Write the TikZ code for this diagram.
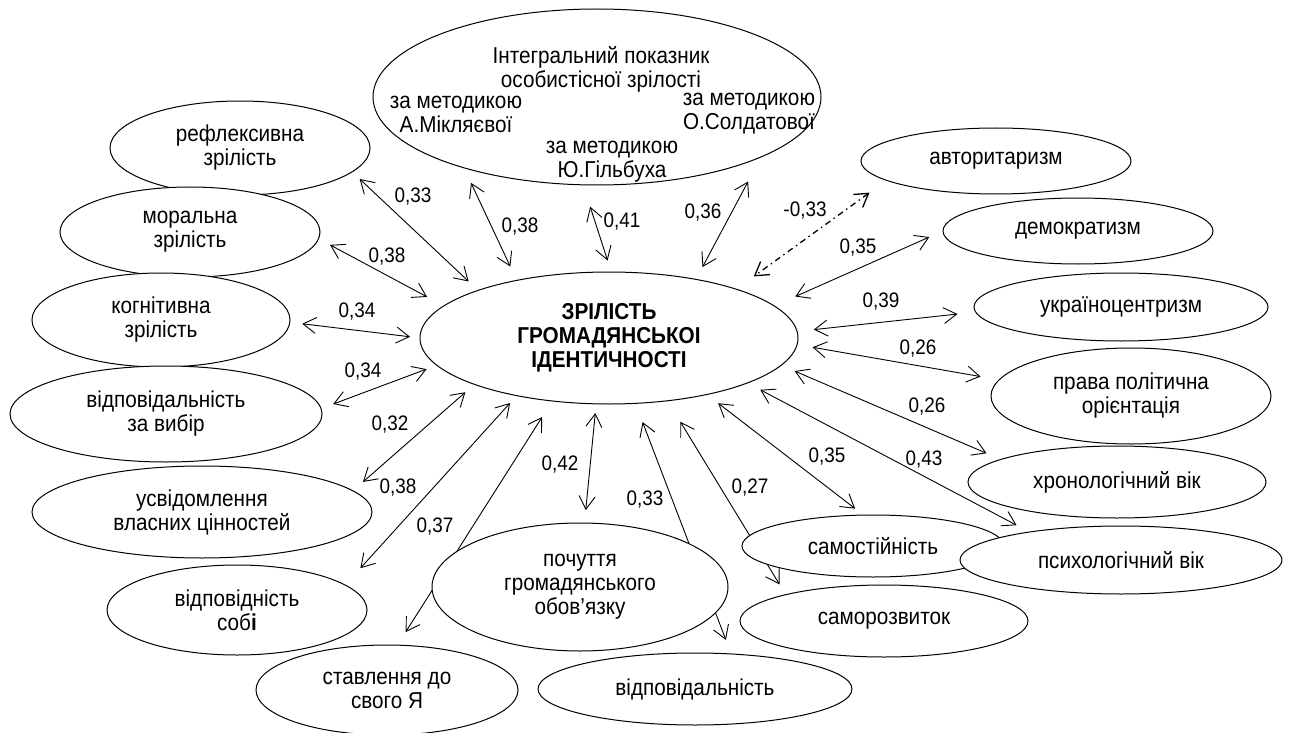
\documentclass[tikz,border=0pt]{standalone}
\usepackage{fontspec}
\setmainfont{Liberation Sans}[FakeStretch=0.9]
\usepackage{tikz}
\usetikzlibrary{arrows.meta,shapes.geometric}
\pgfdeclarelayer{bg}
\pgfsetlayers{bg,main}

\begin{document}
\begin{tikzpicture}[x=1pt, y=-1pt, every node/.style={font=\fontsize{23}{24}\selectfont, align=center, inner sep=0pt, outer sep=0pt},
        ell/.style={ellipse, draw, line width=1pt, fill=white},
        lbl/.style={font=\fontsize{21}{22}\selectfont},
        link/.style={<->, >={Straight Barb[length=13pt,width=16pt]}, line width=0.9pt},
        neg/.style={link, line width=1.3pt, dash pattern=on 6pt off 4pt on 1.5pt off 4pt}]
        \useasboundingbox (0,0) rectangle (1291,733);
        % sentral node og indikatoren over
        \node[ell, minimum width=378pt, minimum height=132pt, font=\fontsize{23}{24}\selectfont\bfseries] (ident) at (609,338) {ЗРІЛІСТЬ\\ГРОМАДЯНСЬКОІ\\ІДЕНТИЧНОСТІ};
        \node[ell, minimum width=448pt, minimum height=176pt] (integ) at (597,97) {};
        \node (integT) at (601,69) {Інтегральний показник\\особистісної зрілості};
        \node (miklT) at (456,114) {за методикою\\А.Мікляєвої};
        \node (soldT) at (749,114) {за методикою\\О.Солдатової};
        \node (gilbT) at (612,162) {за методикою\\Ю.Гільбуха};
        % venstre side
        \node[ell, minimum width=260pt, minimum height=94pt] (refl) at (240,148) {рефлексивна\\зрілість};
        \node[ell, minimum width=260pt, minimum height=90pt] (moral) at (190,232) {моральна\\зрілість};
        \node[ell, minimum width=258pt, minimum height=94pt] (cogn) at (161,320) {когнітивна\\зрілість};
        \node[ell, minimum width=312pt, minimum height=96pt] (vybir) at (166,414) {відповідальність\\за вибір};
        \node[ell, minimum width=340pt, minimum height=92pt] (usvid) at (202,512) {усвідомлення\\власних цінностей};
        \node[ell, minimum width=260pt, minimum height=90pt] (sobi) at (237,610) {відповідність\\соб\textbf{і}};
        \node[ell, minimum width=262pt, minimum height=90pt] (stavl) at (387,690) {ставлення до\\свого Я};
        % nederst
        \node[ell, minimum width=296pt, minimum height=128pt] (pochut) at (580,587) {почуття\\громадянського\\обов’язку};
        \node[ell, minimum width=314pt, minimum height=72pt] (vidpov) at (695,689) {відповідальність};
        \node[ell, minimum width=262pt, minimum height=62pt] (samost) at (873,546) {самостійність};
        \node[ell, minimum width=288pt, minimum height=72pt] (samorozv) at (884,621) {саморозвиток};
        % hoyre side
        \node[ell, minimum width=322pt, minimum height=68pt] (psych) at (1121,560) {психологічний вік};
        \node[ell, minimum width=298pt, minimum height=72pt] (chron) at (1117,482) {хронологічний вік};
        \node[ell, minimum width=280pt, minimum height=96pt] (prava) at (1131,396) {права політична\\орієнтація};
        \node[ell, minimum width=294pt, minimum height=68pt] (ukr) at (1121,307) {україноцентризм};
        \node[ell, minimum width=270pt, minimum height=66pt] (demokr) at (1078,231) {демократизм};
        \node[ell, minimum width=270pt, minimum height=66pt] (avtor) at (996,161) {авторитаризм};
        % piler bak nodene
        \begin{pgfonlayer}{bg}
        \draw[link, shorten <=10.5pt, shorten >=13pt] (refl.-12.7) -- (ident.160.4);
        \draw[link, shorten <=13pt, shorten >=19pt] (moral.-3.1) -- (ident.169);
        \draw[link, shorten <=12.5pt, shorten >=10pt] (cogn.-1.6) -- (ident.180);
        \draw[link, shorten <=13pt, shorten >=11pt] (vybir.2.8) -- (ident.-171.4);
        \draw[link, shorten <=13.5pt, shorten >=12pt] (usvid.8) -- (ident.-161.1);
        \draw[link, shorten <=22.7pt, shorten >=10pt] (sobi.13.2) -- (ident.-148);
        \draw[link, shorten <=15.5pt, shorten >=19pt] (stavl.77.8) -- (ident.-132.7);
        \draw[link, shorten <=13pt, shorten >=9.3pt] (pochut.86.7) -- (ident.-101.2);
        \draw[link, shorten <=15pt, shorten >=20pt] (vidpov.44.8) -- (ident.-68.4);
        \draw[link, shorten <=12pt, shorten >=24.6pt] (samorozv.165.7) -- (ident.-47);
        \draw[link, shorten <=10.6pt, shorten >=14.3pt] (samost.107.6) -- (ident.-30.4);
        \draw[link, shorten <=14.6pt, shorten >=14.6pt] (psych.163.4) -- (ident.-18.3);
        \draw[link, shorten <=15.7pt, shorten >=14.7pt] (chron.169.4) -- (ident.-9.2);
        \draw[link, shorten <=18.9pt, shorten >=15.8pt] (prava.173.2) -- (ident.-2.8);
        \draw[link, shorten <=18.3pt, shorten >=16.8pt] (ukr.-178.3) -- (ident.2.8);
        \draw[link, shorten <=15pt, shorten >=23.1pt] (demokr.180) -- (ident.11.5);
        \draw[neg, shorten <=21pt, shorten >=21.7pt] (avtor.-170) -- (ident.21.9);
        \draw[link, shorten <=16.7pt, shorten >=15.3pt] (integ.-152.8) -- (ident.148.8);
        \draw[link, shorten <=23pt, shorten >=12pt] (integ.-99) -- (ident.88.5);
        \draw[link, shorten <=28pt, shorten >=14pt] (integ.-20.3) -- (ident.34.1);
        \end{pgfonlayer}
        % koeffisienter
        \node[lbl] (kRefl) at (413,197) {0,33};
        \node[lbl] (kMoral) at (387,257) {0,38};
        \node[lbl] (kCogn) at (357,312) {0,34};
        \node[lbl] (kVybir) at (363,372) {0,34};
        \node[lbl] (kUsvid) at (390,425) {0,32};
        \node[lbl] (kSobi) at (398,488) {0,38};
        \node[lbl] (kStavl) at (435,527) {0,37};
        \node[lbl] (kPochut) at (560,465) {0,42};
        \node[lbl] (kVidpov) at (645,500) {0,33};
        \node[lbl] (kSamorozv) at (750,488) {0,27};
        \node[lbl] (kSamost) at (827,457) {0,35};
        \node[lbl] (kPsych) at (924,460) {0,43};
        \node[lbl] (kChron) at (927,407) {0,26};
        \node[lbl] (kPrava) at (918,349) {0,26};
        \node[lbl] (kUkr) at (881,302) {0,39};
        \node[lbl] (kDemokr) at (858,248) {0,35};
        \node[lbl] (kAvtor) at (805,211) {-0,33};
        \node[lbl] (kMikl) at (520,227) {0,38};
        \node[lbl] (kGilb) at (622,222) {0,41};
        \node[lbl] (kSold) at (703,213) {0,36};
    \end{tikzpicture}
\end{document}
